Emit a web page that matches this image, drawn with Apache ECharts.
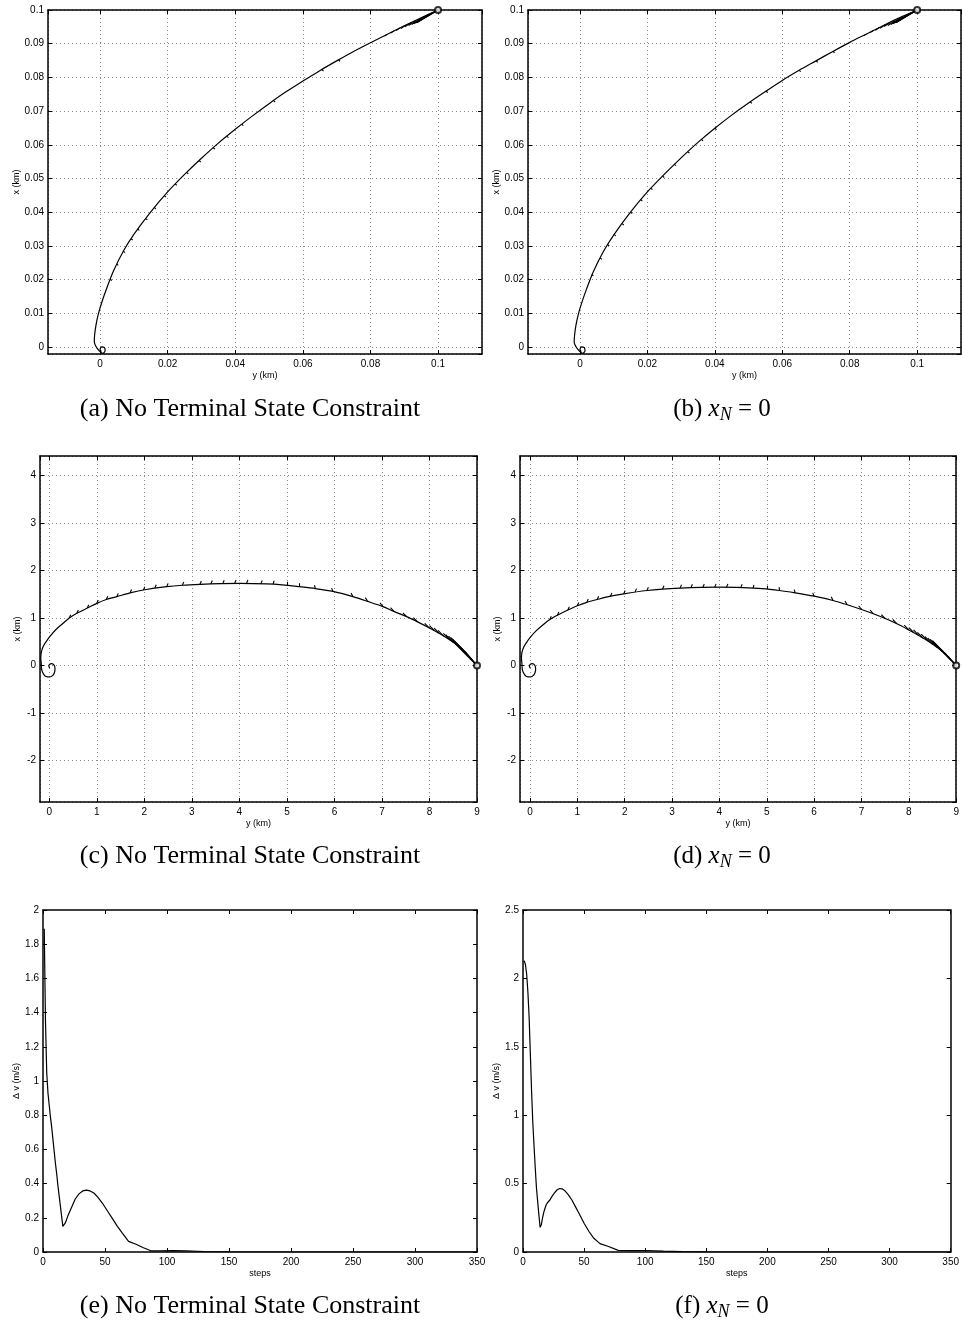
<!DOCTYPE html>
<html><head><meta charset="utf-8">
<script src="https://cdn.jsdelivr.net/npm/echarts@6/dist/echarts.min.js"></script>
<style>html,body{margin:0;padding:0;background:#fff}#c{width:962px;height:1322px}</style>
</head><body><div id="c"></div>
<script>
// ---------- data: trajectories, pairs are [y (km), x (km)] ----------
const trajA = [[0.1,0.1],[0.095,0.0977],[0.09,0.0953],[0.085,0.0928],[0.08,0.0903],[0.075,0.0877],[0.07,0.0849],[0.065,0.082],[0.06,0.0789],[0.055,0.0757],[0.05,0.0722],[0.045,0.0685],[0.04,0.0646],[0.035,0.0605],[0.03,0.056],[0.025,0.0512],[0.02,0.046],[0.015,0.0401],[0.01,0.0334],[0.007,0.0286],[0.004,0.0226],[0.002,0.0175],[0.0005,0.0132],[-0.0005,0.0098],[-0.0012,0.0065],[-0.0016,0.0036],[-0.0017,0.0015],[-0.0012,0.0001],[-0.0005,-0.0009],[0,-0.0014],[0.0008,-0.0019],[0.0015,-0.0011],[0.0013,-0.0002],[0.0005,0],[0,-0.0007],[0.0004,-0.0014]];
const trajB = [[0.1,0.1],[0.095,0.0978],[0.09,0.0954],[0.085,0.0929],[0.08,0.0904],[0.075,0.0877],[0.07,0.0849],[0.065,0.0821],[0.06,0.0791],[0.055,0.0758],[0.05,0.0724],[0.045,0.0688],[0.04,0.0649],[0.035,0.0607],[0.03,0.0561],[0.025,0.0512],[0.02,0.046],[0.015,0.04],[0.01,0.0332],[0.007,0.0284],[0.004,0.0224],[0.002,0.0173],[0.0005,0.013],[-0.0005,0.0096],[-0.0012,0.0063],[-0.0016,0.0034],[-0.0017,0.0014],[-0.0012,0.0001],[-0.0005,-0.0009],[0,-0.0014],[0.0008,-0.0019],[0.0015,-0.0011],[0.0013,-0.0002],[0.0005,0],[0,-0.0007],[0.0004,-0.0014]];
const trajC = [[9,0],[8.9,0.12],[8.78,0.26],[8.6,0.42],[8.43,0.54],[8.2,0.68],[8.0,0.79],[7.75,0.92],[7.52,1.03],[7.25,1.14],[7.02,1.24],[6.7,1.35],[6.39,1.45],[5.97,1.56],[5.6,1.62],[5.27,1.66],[4.9,1.7],[4.57,1.72],[4.01,1.73],[3.6,1.725],[3.17,1.71],[2.8,1.69],[2.47,1.66],[1.98,1.59],[1.7,1.53],[1.42,1.45],[1.2,1.39],[1.0,1.31],[0.8,1.21],[0.58,1.1],[0.42,1.0],[0.29,0.89],[0.14,0.76],[0.01,0.61],[-0.07,0.5],[-0.13,0.4],[-0.17,0.27],[-0.18,0.16],[-0.17,0.05],[-0.16,-0.09],[-0.12,-0.18],[-0.07,-0.23],[0.01,-0.24],[0.08,-0.2],[0.11,-0.14],[0.12,-0.06],[0.1,0.01],[0.05,0.04],[0,0.02],[-0.01,-0.02],[0.01,-0.05]];
const trajD = [[9,0],[8.9,0.11],[8.8,0.22],[8.6,0.38],[8.4,0.52],[8.2,0.64],[8.0,0.75],[7.75,0.88],[7.5,0.99],[7.25,1.09],[7.0,1.18],[6.7,1.28],[6.4,1.37],[6.0,1.46],[5.6,1.53],[5.27,1.58],[4.9,1.62],[4.5,1.64],[4.0,1.65],[3.6,1.645],[3.17,1.63],[2.8,1.61],[2.47,1.58],[1.98,1.51],[1.7,1.46],[1.42,1.39],[1.2,1.33],[1.0,1.26],[0.8,1.17],[0.58,1.06],[0.42,0.97],[0.29,0.87],[0.14,0.74],[0.01,0.6],[-0.07,0.49],[-0.13,0.39],[-0.17,0.27],[-0.18,0.16],[-0.17,0.05],[-0.16,-0.09],[-0.12,-0.18],[-0.07,-0.23],[0.01,-0.24],[0.08,-0.2],[0.11,-0.14],[0.12,-0.06],[0.1,0.01],[0.05,0.04],[0,0.02],[-0.01,-0.02],[0.01,-0.05]];

// thrust arrows: [y, x, dy, dx]
const arrowsA = [[0.1,0.1,-0.0065,-0.0036],[0.0997,0.0998,-0.006,-0.0035],[0.0993,0.0996,-0.0055,-0.0033],[0.0988,0.0994,-0.005,-0.003],[0.0982,0.0991,-0.0045,-0.0028],[0.0975,0.0988,-0.004,-0.0026],[0.0967,0.0984,-0.0035,-0.0023],[0.0958,0.098,-0.003,-0.0021],[0.0948,0.0975,-0.0026,-0.0018],[0.0935,0.0969,-0.0022,-0.0015],[0.092,0.0962,-0.0018,-0.0012],[0.0905,0.0955,-0.0015,-0.001],[0.0888,0.0947,-0.0012,-0.0008],[0.087,0.0938,-0.001,-0.0006],[0.085,0.0928,-0.0008,-0.0005],
[0.0705,0.0852,0.0005,-0.0004],[0.0656,0.0823,0.0005,-0.0004],[0.0513,0.0731,0.0005,-0.0004],[0.0419,0.0661,0.0005,-0.0004],[0.0375,0.0625,0.0005,-0.0004],[0.0335,0.0591,0.0005,-0.0004],[0.0293,0.0553,0.0005,-0.0004],[0.0256,0.0518,0.0005,-0.0004],[0.0222,0.0484,0.0005,-0.0004],[0.019,0.0449,0.0005,-0.0004],[0.016,0.0414,0.0005,-0.0004],[0.0135,0.0381,0.0005,-0.0004],[0.0111,0.035,0.0005,-0.0004],[0.0092,0.0321,0.0005,-0.0004],[0.0069,0.0284,0.0005,-0.0004],[0.0049,0.0246,0.0005,-0.0004],[0.003,0.0201,0.0005,-0.0004]];
const arrowsB = [[0.1,0.1,-0.0065,-0.0036],[0.0997,0.0998,-0.006,-0.0035],[0.0993,0.0996,-0.0055,-0.0033],[0.0988,0.0994,-0.005,-0.003],[0.0982,0.0991,-0.0045,-0.0028],[0.0975,0.0988,-0.004,-0.0026],[0.0967,0.0984,-0.0035,-0.0023],[0.0958,0.098,-0.003,-0.0021],[0.0948,0.0975,-0.0026,-0.0018],[0.0935,0.0969,-0.0022,-0.0015],[0.092,0.0963,-0.0018,-0.0012],[0.0905,0.0956,-0.0015,-0.001],[0.0888,0.0948,-0.0012,-0.0008],[0.087,0.0939,-0.001,-0.0006],[0.085,0.0929,-0.0008,-0.0005],
[0.075,0.0877,0.0005,-0.0004],[0.07,0.0849,0.0005,-0.0004],[0.065,0.0821,0.0005,-0.0004],[0.0552,0.0759,0.0005,-0.0004],[0.0505,0.0727,0.0005,-0.0004],[0.04,0.0649,0.0005,-0.0004],[0.036,0.0616,0.0005,-0.0004],[0.032,0.0579,0.0005,-0.0004],[0.028,0.0542,0.0005,-0.0004],[0.0245,0.0507,0.0005,-0.0004],[0.021,0.0471,0.0005,-0.0004],[0.018,0.0437,0.0005,-0.0004],[0.015,0.04,0.0005,-0.0004],[0.0125,0.0366,0.0005,-0.0004],[0.0101,0.0334,0.0005,-0.0004],[0.0082,0.0304,0.0005,-0.0004],[0.006,0.0264,0.0005,-0.0004],[0.0035,0.0215,0.0005,-0.0004]];
const arrowsC = [[0.42,1.0,0.03,0.07],[0.58,1.1,0.03,0.07],[0.8,1.21,0.03,0.07],[1.0,1.31,0.03,0.07],[1.2,1.39,0.03,0.07],[1.42,1.45,0.03,0.07],[1.7,1.53,0.03,0.07],[1.98,1.59,0.03,0.07],[2.22,1.63,0.03,0.07],[2.47,1.66,0.03,0.07],[2.8,1.69,0.03,0.07],[3.17,1.71,0.03,0.07],[3.4,1.72,0.03,0.07],[3.65,1.725,0.03,0.07],[3.9,1.73,0.03,0.07],[4.15,1.73,0.03,0.07],[4.45,1.72,0.03,0.07],[4.71,1.715,0.02,0.07],[5.0,1.695,0,0.07],[5.27,1.66,-0.01,0.07],[5.6,1.62,-0.02,0.07],[5.97,1.56,-0.03,0.07],[6.39,1.45,-0.04,0.08],[6.7,1.35,-0.05,0.08],[7.02,1.24,-0.06,0.08],[7.25,1.14,-0.07,0.08],[7.52,1.03,-0.08,0.08],[7.75,0.92,-0.09,0.09],[8.0,0.79,-0.1,0.1],[8.1,0.74,-0.1,0.1],[8.2,0.68,-0.1,0.11],[8.3,0.62,-0.12,0.12],[8.43,0.54,-0.14,0.14],[8.5,0.49,-0.16,0.16],[8.6,0.42,-0.2,0.2],[8.7,0.34,-0.25,0.25],[8.78,0.26,-0.3,0.3],[8.85,0.18,-0.36,0.35],[8.9,0.12,-0.4,0.4],[8.95,0.06,-0.45,0.46],[9.0,0.0,-0.5,0.5]];
const arrowsD = [[0.42,0.97,0.03,0.07],[0.58,1.06,0.03,0.07],[0.8,1.17,0.03,0.07],[1.0,1.26,0.03,0.07],[1.2,1.33,0.03,0.07],[1.42,1.39,0.03,0.07],[1.7,1.46,0.03,0.07],[1.98,1.51,0.03,0.07],[2.22,1.55,0.03,0.07],[2.47,1.58,0.03,0.07],[2.8,1.61,0.03,0.07],[3.17,1.63,0.03,0.07],[3.4,1.64,0.03,0.07],[3.65,1.645,0.03,0.07],[3.9,1.65,0.03,0.07],[4.15,1.65,0.03,0.07],[4.45,1.64,0.03,0.07],[4.71,1.63,0.02,0.07],[5.0,1.61,0,0.07],[5.27,1.58,-0.01,0.07],[5.6,1.53,-0.02,0.07],[6.0,1.46,-0.03,0.07],[6.4,1.37,-0.04,0.08],[6.7,1.28,-0.05,0.08],[7.0,1.18,-0.06,0.08],[7.25,1.09,-0.07,0.08],[7.5,0.99,-0.08,0.08],[7.75,0.88,-0.09,0.09],[8.0,0.75,-0.1,0.1],[8.1,0.7,-0.1,0.1],[8.2,0.64,-0.1,0.11],[8.3,0.58,-0.12,0.12],[8.4,0.52,-0.14,0.14],[8.5,0.45,-0.16,0.16],[8.6,0.38,-0.2,0.2],[8.7,0.3,-0.25,0.25],[8.8,0.22,-0.3,0.3],[8.85,0.17,-0.36,0.35],[8.9,0.11,-0.4,0.4],[8.95,0.06,-0.45,0.46],[9.0,0.0,-0.5,0.5]];

const startAB = [[0.1,0.1]];
const startCD = [[9,0]];

// delta-v vs steps
const stepsE = [1,2,3,4,5,6,7,8,9,10,11,12,13,14,15,16,18,20,23,26,29,32,35,38,41,44,48,52,56,60,64,69,75,81,87,95,105,115,130,150,200,250,300,350];
const dvE    = [1.89,1.35,1.05,0.93,0.86,0.79,0.73,0.66,0.59,0.52,0.46,0.39,0.33,0.27,0.21,0.15,0.17,0.21,0.26,0.31,0.34,0.357,0.362,0.357,0.345,0.322,0.285,0.24,0.195,0.15,0.11,0.062,0.045,0.025,0.007,0.007,0.008,0.006,0.003,0.001,0,0,0,0];
const stepsF = [1,2,3,4,5,6,7,8,9,10,11,12,13,14,15,16,17,18,19,20,21,22,24,26,28,30,32,34,37,40,43,46,50,54,58,63,70,78,90,100,115,130,150,200,250,300,350];
const dvF    = [2.13,2.1,2.03,1.9,1.72,1.45,1.18,0.95,0.78,0.62,0.47,0.37,0.27,0.18,0.2,0.25,0.29,0.32,0.345,0.36,0.365,0.38,0.41,0.435,0.455,0.464,0.462,0.45,0.42,0.38,0.33,0.28,0.21,0.15,0.1,0.061,0.04,0.012,0.01,0.011,0.006,0.003,0.001,0,0,0,0];

// axis extents [min, max, tick interval]
const axA = {x:[-0.0154,0.113,0.02], y:[-0.0021,0.1,0.01]};
const axB = {x:[-0.0154,0.113,0.02], y:[-0.0021,0.1,0.01]};
const axC = {x:[-0.196,9,1], y:[-2.87,4.41,1]};
const axD = {x:[-0.21,9,1], y:[-2.87,4.41,1]};
const axE = {x:[0,350,50], y:[0,2,0.2]};
const axF = {x:[0,350,50], y:[0,2.5,0.5]};

const captions = ['(a) No Terminal State Constraint','(b) {i|x}{s|N} = 0','(c) No Terminal State Constraint','(d) {i|x}{s|N} = 0','(e) No Terminal State Constraint','(f) {i|x}{s|N} = 0'];

// ---------- layout ----------
const FONT = "'Liberation Sans', Arial, Helvetica, sans-serif";
const SERIF = "'Liberation Serif', 'Times New Roman', serif";
const grids = [
  {left:48, top:10, width:434, height:344},
  {left:528, top:10, width:433, height:344},
  {left:40, top:456, width:437, height:346},
  {left:520, top:456, width:438, height:346},
  {left:43, top:910, width:434, height:342},
  {left:523, top:910, width:434, height:342}
];
const specs = [
  {ax:axA, grid:true, xName:'y (km)', yName:'x (km)', xGap:17, yGap:27, minX:false, maxX:false, minY:false, maxY:true},
  {ax:axB, grid:true, xName:'y (km)', yName:'x (km)', xGap:17, yGap:27, minX:false, maxX:false, minY:false, maxY:true},
  {ax:axC, grid:true, xName:'y (km)', yName:'x (km)', xGap:17, yGap:18, minX:false, maxX:true, minY:false, maxY:false},
  {ax:axD, grid:true, xName:'y (km)', yName:'x (km)', xGap:17, yGap:18, minX:false, maxX:true, minY:false, maxY:false},
  {ax:axE, grid:false, xName:'steps', yName:'\u0394 v (m/s)', xGap:17, yGap:21, minX:true, maxX:true, minY:true, maxY:true},
  {ax:axF, grid:false, xName:'steps', yName:'\u0394 v (m/s)', xGap:17, yGap:21, minX:true, maxX:true, minY:true, maxY:true}
];
const capPos = [[250,409],[722,409],[250,856],[722,856],[250,1306],[722,1306]];
const capSize = [26,25,26,25,26,25];

const xAxis = [], yAxis = [], series = [], graphic = [];
const lineStyleAxis = {color:'#000', width:1.5};
specs.forEach((s, i) => {
  const common = (r) => ({type:'value', gridIndex:i, min:r[0], max:r[1], minInterval:r[2], maxInterval:r[2], splitNumber:Math.round((r[1]-r[0])/r[2])});
  xAxis.push(Object.assign(common(s.ax.x), {
    position:'bottom',
    axisLine:{show:true, onZero:false, lineStyle:lineStyleAxis},
    axisTick:{show:true, inside:true, length:4, lineStyle:{color:'#000', width:1}},
    axisLabel:{color:'#000', fontSize:10, fontFamily:FONT, margin:5, showMinLabel:s.minX, showMaxLabel:s.maxX},
    splitLine:{show:s.grid, lineStyle:{color:'#8a8a8a', width:1, type:[1,3]}},
    name:s.xName, nameLocation:'middle', nameGap:s.xGap,
    nameTextStyle:{color:'#000', fontSize:9, fontFamily:FONT}
  }));
  xAxis.push(Object.assign(common(s.ax.x), {
    position:'top',
    axisLine:{show:true, onZero:false, lineStyle:lineStyleAxis},
    axisTick:{show:true, inside:true, length:4, lineStyle:{color:'#000', width:1}},
    axisLabel:{show:false}, splitLine:{show:false}
  }));
  yAxis.push(Object.assign(common(s.ax.y), {
    position:'left',
    axisLine:{show:true, onZero:false, lineStyle:lineStyleAxis},
    axisTick:{show:true, inside:true, length:4, lineStyle:{color:'#000', width:1}},
    axisLabel:{color:'#000', fontSize:10, fontFamily:FONT, margin:4, showMinLabel:s.minY, showMaxLabel:s.maxY},
    splitLine:{show:s.grid, lineStyle:{color:'#8a8a8a', width:1, type:[1,3]}},
    name:s.yName, nameLocation:'middle', nameGap:s.yGap,
    nameTextStyle:{color:'#000', fontSize:9, fontFamily:FONT}
  }));
  yAxis.push(Object.assign(common(s.ax.y), {
    position:'right',
    axisLine:{show:true, onZero:false, lineStyle:lineStyleAxis},
    axisTick:{show:true, inside:true, length:4, lineStyle:{color:'#000', width:1}},
    axisLabel:{show:false}, splitLine:{show:false}
  }));
});

const trajs = [trajA, trajB, trajC, trajD];
const arrows = [arrowsA, arrowsB, arrowsC, arrowsD];
const starts = [startAB, startAB, startCD, startCD];
trajs.forEach((t, i) => {
  series.push({type:'line', xAxisIndex:2*i, yAxisIndex:2*i, data:t, showSymbol:false, smooth:0.3,
    lineStyle:{color:'#000', width:1.2}, silent:true, z:3});
  series.push({type:'lines', coordinateSystem:'cartesian2d', xAxisIndex:2*i, yAxisIndex:2*i,
    data: arrows[i].map(a => ({coords:[[a[0],a[1]],[a[0]+a[2],a[1]+a[3]]]})),
    lineStyle:{color:'#000', width:1.1, opacity:1}, silent:true, z:4});
  series.push({type:'scatter', xAxisIndex:2*i, yAxisIndex:2*i, data:starts[i], symbol:'emptyCircle', symbolSize:6,
    clip:false, itemStyle:{color:'#000', borderColor:'#000', borderWidth:1.1}, silent:true, z:10});
});
[[stepsE, dvE],[stepsF, dvF]].forEach((d, k) => {
  const i = 4 + k;
  series.push({type:'line', xAxisIndex:2*i, yAxisIndex:2*i, data:d[0].map((s, j) => [s, d[1][j]]),
    showSymbol:false, smooth:false, lineStyle:{color:'#000', width:1.2}, silent:true, z:3});
});

captions.forEach((c, i) => {
  const fs = capSize[i];
  graphic.push({type:'text', x:capPos[i][0], y:capPos[i][1], silent:true, style:{
    text:c, align:'center', verticalAlign:'middle', fill:'#000',
    font:fs + 'px ' + SERIF, lineHeight:30,
    rich:{
      i:{fontFamily:SERIF, fontSize:fs, fontStyle:'italic', lineHeight:30, fill:'#000'},
      s:{fontFamily:SERIF, fontSize:18, fontStyle:'italic', verticalAlign:'bottom', lineHeight:18, fill:'#000'}
    }
  }});
});

const chart = echarts.init(document.getElementById('c'), null, {renderer:'canvas'});
chart.setOption({animation:false, backgroundColor:'#fff', grid:grids, xAxis, yAxis, series, graphic});
</script></body></html>
